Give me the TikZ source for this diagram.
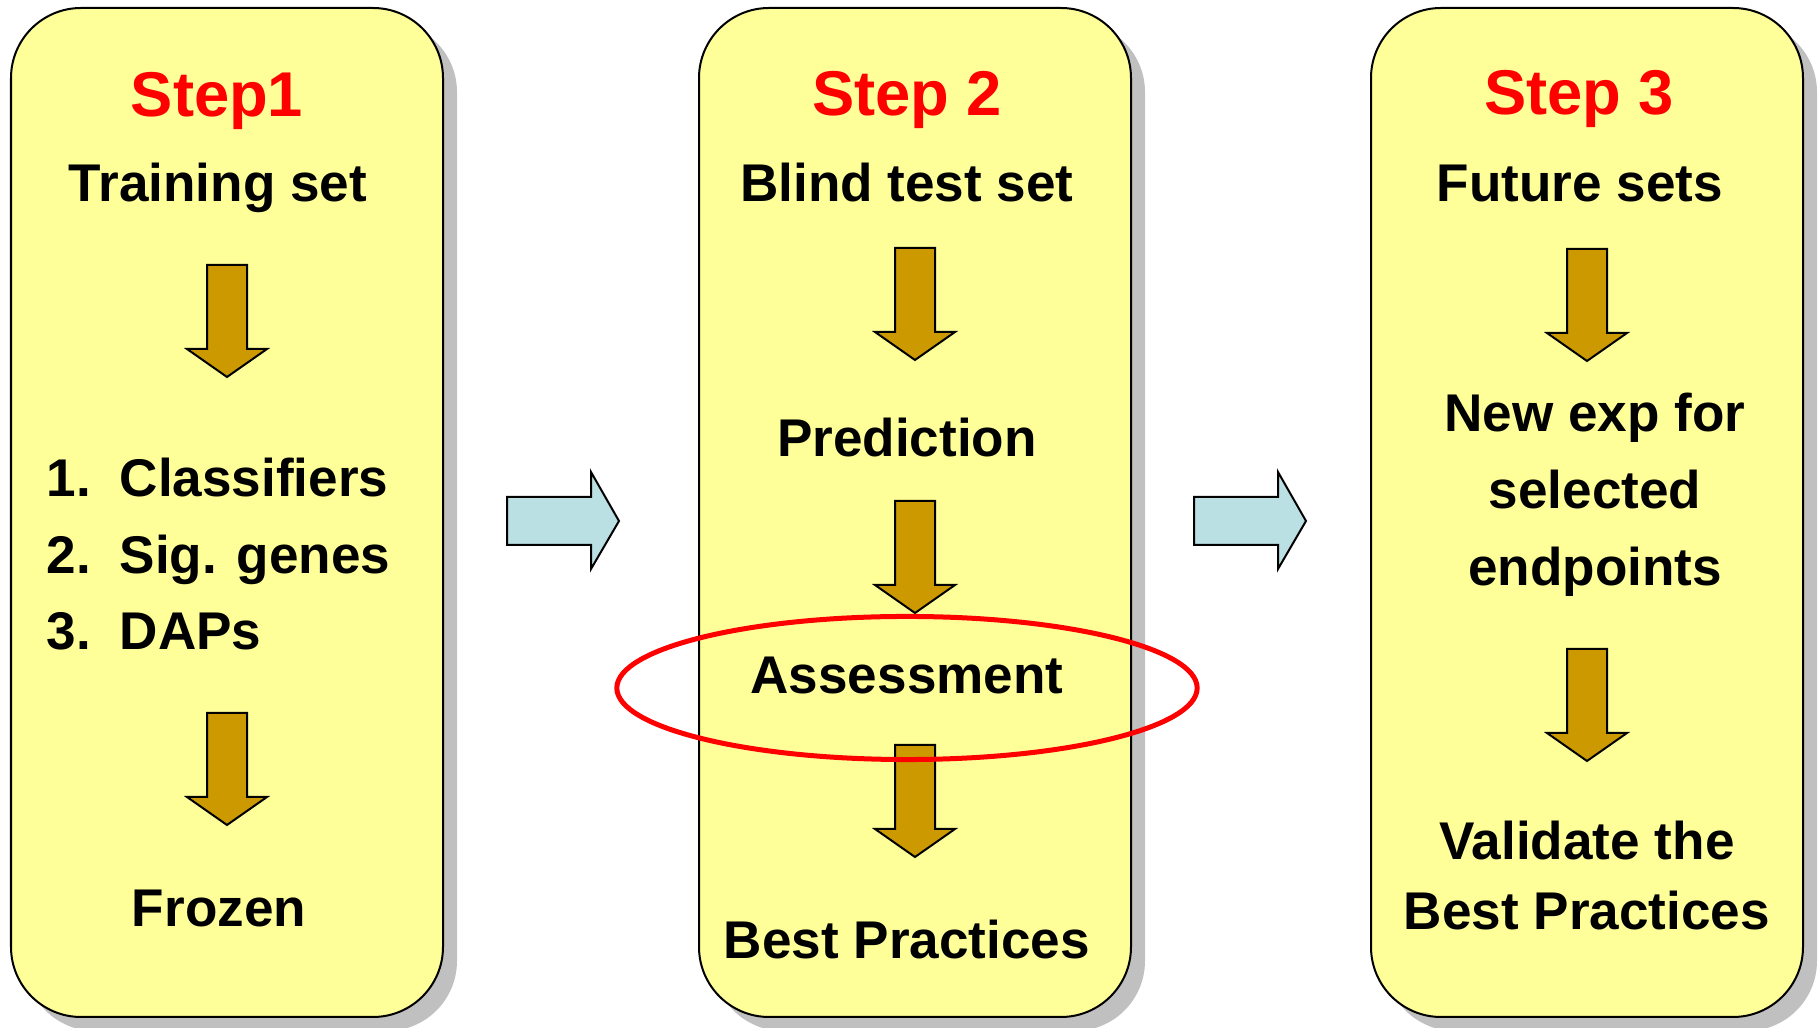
\documentclass[tikz,border=0pt]{standalone}
\usepackage{fontspec}
\setmainfont{Liberation Sans}
\definecolor{panelfill}{HTML}{FFFF99}
\definecolor{shadowgray}{HTML}{C0C0C0}
\definecolor{arrowbrown}{HTML}{CC9900}
\definecolor{arrowblue}{HTML}{BBE0E3}
\begin{document}
\begin{tikzpicture}[x=0.01cm,y=-0.01cm,font=\bfseries\fontsize{15.1}{18}\selectfont,
  panel/.style={draw,line width=0.02cm,fill=panelfill,rounded corners=0.7cm},
  shade/.style={fill=shadowgray,rounded corners=0.7cm},
  downarr/.style={draw,line width=0.02cm,fill=arrowbrown},
  rightarr/.style={draw,line width=0.02cm,fill=arrowblue},
  ring/.style={draw=red,line width=0.05cm},
  txt/.style={anchor=base,inner sep=0},
  steplbl/.style={txt,text=red,font=\bfseries\fontsize{18}{22}\selectfont}]
\useasboundingbox(0,0)rectangle(1820,1028);
% panels
\foreach \l in {11,699,1371}{
  \fill[shade](\l+14,22)rectangle(\l+446,1031);
  \draw[panel](\l,8)rectangle(\l+432,1017);}
% arrows
\foreach \x/\y in {227/265,227/713,915/248,915/501,915/745,1587/249,1587/649}
  \draw[downarr](\x-20,\y)--(\x+20,\y)--(\x+20,\y+84)--(\x+40,\y+84)--(\x,\y+112)--(\x-40,\y+84)--(\x-20,\y+84)--cycle;
\foreach \x in {507,1194}
  \draw[rightarr](\x,497)--(\x+84,497)--(\x+84,472)--(\x+112,521)--(\x+84,569)--(\x+84,545)--(\x,545)--cycle;
% step 1
\node[steplbl](st1)at(217,117){Step1};
\node[txt](train)at(218,202){Training set};
\foreach \n/\t in {1/Classifiers,2/Sig. genes,3/DAPs}{
  \node[txt,anchor=base west](num\n)at(46,497+76.5*\n-76.5){\n.};
  \node[txt,anchor=base west](item\n)at(119,497+76.5*\n-76.5){\t};}
\node[txt](frozen)at(219,927){Frozen};
% step 2
\node[steplbl](st2)at(907,116){Step 2};
\node[txt](blind)at(907,202){Blind test set};
\node[txt](pred)at(907,457){Prediction};
\node[txt](assess)at(907,694){Assessment};
\node[txt](best)at(907,959){Best Practices};
\draw[ring](907,688)ellipse[x radius=2.9cm,y radius=0.715cm];
% step 3
\node[steplbl](st3)at(1579,115){Step 3};
\node[txt](future)at(1580,202){Future sets};
\foreach \t/\y [count=\i] in {New exp for/432,selected/509,endpoints/586}
  \node[txt](newexp\i)at(1595,\y){\t};
\node[txt](valid1)at(1587,860){Validate the};
\node[txt](valid2)at(1587,930){Best Practices};
\end{tikzpicture}
\end{document}
